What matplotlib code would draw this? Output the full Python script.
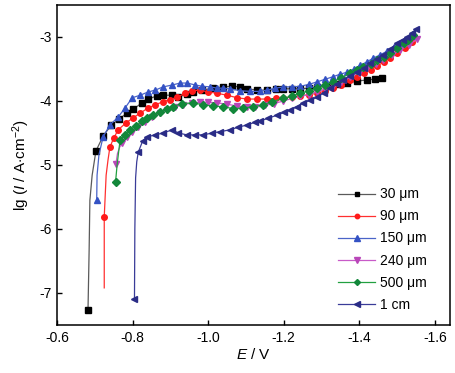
import matplotlib
matplotlib.use("Agg")
import matplotlib.pyplot as plt

plt.rcParams['font.family'] = ['Liberation Sans', 'DejaVu Sans']
plt.rcParams['mathtext.fontset'] = 'custom'
plt.rcParams['mathtext.rm'] = 'Liberation Sans'
plt.rcParams['mathtext.it'] = 'Liberation Sans:italic'
plt.rcParams['axes.unicode_minus'] = False

# ---- data (E in V, lg I in lg(A/cm2)) ----
E_30 = [-0.682, -0.685, -0.687, -0.693, -0.703, -0.722, -0.743, -0.765, -0.785, -0.801,
        -0.825, -0.841, -0.865, -0.881, -0.905, -0.921, -0.944, -0.960, -0.985, -1.013,
        -1.040, -1.064, -1.085, -1.103, -1.130, -1.155, -1.180, -1.199, -1.222, -1.244,
        -1.268, -1.289, -1.311, -1.331, -1.350, -1.368, -1.395, -1.421, -1.442, -1.461]
lg_30 = [-7.27, -6.33, -5.55, -5.16, -4.78, -4.55, -4.38, -4.28, -4.19, -4.13,
         -4.03, -3.97, -3.92, -3.91, -3.91, -3.94, -3.89, -3.86, -3.83, -3.80,
         -3.78, -3.77, -3.78, -3.81, -3.83, -3.83, -3.82, -3.81, -3.81, -3.81,
         -3.80, -3.78, -3.77, -3.75, -3.73, -3.72, -3.69, -3.67, -3.66, -3.64]

E_90 = [-0.725, -0.725, -0.730, -0.735, -0.740, -0.750, -0.762, -0.783, -0.800, -0.820,
        -0.841, -0.860, -0.881, -0.899, -0.918, -0.939, -0.958, -0.979, -1.000, -1.024,
        -1.050, -1.077, -1.103, -1.130, -1.156, -1.180, -1.199, -1.222, -1.244, -1.267,
        -1.289, -1.310, -1.331, -1.352, -1.376, -1.395, -1.412, -1.430, -1.448, -1.465,
        -1.482, -1.501, -1.520, -1.540]
lg_90 = [-6.92, -5.81, -5.16, -4.92, -4.72, -4.58, -4.45, -4.34, -4.27, -4.19,
         -4.11, -4.06, -4.01, -3.98, -3.94, -3.88, -3.84, -3.83, -3.86, -3.88,
         -3.91, -3.95, -3.97, -3.97, -3.97, -3.96, -3.95, -3.94, -3.92, -3.90,
         -3.88, -3.84, -3.80, -3.75, -3.68, -3.63, -3.57, -3.51, -3.45, -3.39,
         -3.33, -3.25, -3.17, -3.08]

E_150 = [-0.705, -0.706, -0.711, -0.722, -0.740, -0.762, -0.780, -0.799, -0.820, -0.841,
         -0.860, -0.881, -0.905, -0.926, -0.944, -0.966, -0.984, -1.005, -1.024, -1.040,
         -1.058, -1.085, -1.111, -1.138, -1.156, -1.178, -1.199, -1.222, -1.244, -1.267,
         -1.289, -1.310, -1.331, -1.350, -1.368, -1.386, -1.403, -1.420, -1.437, -1.455,
         -1.474, -1.492, -1.509, -1.525, -1.540]
lg_150 = [-5.55, -5.16, -4.84, -4.56, -4.375, -4.25, -4.11, -3.95, -3.91, -3.86,
          -3.83, -3.78, -3.75, -3.72, -3.72, -3.75, -3.77, -3.78, -3.80, -3.80,
          -3.81, -3.84, -3.85, -3.85, -3.83, -3.80, -3.78, -3.78, -3.77, -3.74,
          -3.70, -3.66, -3.62, -3.58, -3.55, -3.50, -3.44, -3.39, -3.33, -3.28,
          -3.22, -3.16, -3.11, -3.05, -2.99]

E_240 = [-0.756, -0.760, -0.766, -0.772, -0.785, -0.799, -0.815, -0.833, -0.852, -0.873,
         -0.891, -0.913, -0.934, -0.958, -0.979, -1.000, -1.024, -1.050, -1.077, -1.103,
         -1.125, -1.150, -1.175, -1.199, -1.222, -1.244, -1.267, -1.289, -1.310, -1.331,
         -1.352, -1.376, -1.398, -1.421, -1.443, -1.464, -1.487, -1.509, -1.532, -1.554]
lg_240 = [-4.98, -4.82, -4.72, -4.66, -4.56, -4.48, -4.41, -4.33, -4.25, -4.19,
          -4.14, -4.09, -4.06, -4.03, -4.02, -4.02, -4.03, -4.05, -4.08, -4.10,
          -4.10, -4.07, -4.04, -4.00, -3.96, -3.93, -3.90, -3.86, -3.81, -3.76,
          -3.70, -3.63, -3.56, -3.49, -3.43, -3.36, -3.28, -3.20, -3.12, -3.03]

E_500 = [-0.755, -0.759, -0.763, -0.767, -0.780, -0.793, -0.809, -0.824, -0.838, -0.855,
         -0.873, -0.891, -0.907, -0.930, -0.960, -0.987, -1.013, -1.040, -1.066, -1.093,
         -1.119, -1.146, -1.170, -1.199, -1.222, -1.244, -1.267, -1.289, -1.310, -1.331,
         -1.352, -1.376, -1.395, -1.411, -1.430, -1.448, -1.465, -1.482, -1.500, -1.517,
         -1.530, -1.543]
lg_500 = [-5.26, -5.00, -4.80, -4.61, -4.53, -4.45, -4.39, -4.32, -4.27, -4.22,
          -4.17, -4.12, -4.09, -4.04, -4.03, -4.06, -4.08, -4.09, -4.12, -4.11,
          -4.09, -4.06, -4.01, -3.96, -3.92, -3.88, -3.84, -3.80, -3.75, -3.70,
          -3.64, -3.57, -3.52, -3.47, -3.42, -3.36, -3.31, -3.25, -3.18, -3.10,
          -3.04, -2.97]

E_1cm = [-0.805, -0.806, -0.808, -0.811, -0.815, -0.827, -0.838, -0.860, -0.881, -0.905,
         -0.921, -0.944, -0.966, -0.987, -1.011, -1.032, -1.058, -1.079, -1.103, -1.125,
         -1.138, -1.159, -1.183, -1.200, -1.217, -1.235, -1.252, -1.270, -1.289, -1.306,
         -1.323, -1.340, -1.358, -1.376, -1.395, -1.412, -1.429, -1.446, -1.464, -1.482,
         -1.501, -1.515, -1.527, -1.540, -1.551]
lg_1cm = [-7.09, -6.00, -5.20, -4.95, -4.80, -4.62, -4.56, -4.53, -4.50, -4.45,
          -4.50, -4.53, -4.53, -4.53, -4.50, -4.48, -4.45, -4.41, -4.375, -4.33,
          -4.31, -4.27, -4.22, -4.18, -4.14, -4.09, -4.03, -3.99, -3.94, -3.87,
          -3.80, -3.74, -3.67, -3.61, -3.55, -3.48, -3.41, -3.35, -3.28, -3.19,
          -3.09, -3.04, -3.00, -2.94, -2.875]

labels = ['30 μm', '90 μm', '150 μm', '240 μm', '500 μm', '1 cm']
x_ticks = [-0.6, -0.8, -1.0, -1.2, -1.4, -1.6]
y_ticks = [-7, -6, -5, -4, -3]

# (E, lg, line colour, marker colour, marker, size, marked points)
series = [
    (E_30, lg_30, '#5a5a5a', '#000000', 's', 3.8, [0] + list(range(4, len(E_30)))),
    (E_90, lg_90, '#ff3030', '#ff1a1a', 'o', 4.0, [1] + list(range(4, len(E_90)))),
    (E_150, lg_150, '#4a64c8', '#3452c4', '^', 4.8, [0] + list(range(3, len(E_150)))),
    (E_240, lg_240, '#c85ac8', '#b946b9', 'v', 4.8, [0] + list(range(3, len(E_240)))),
    (E_500, lg_500, '#22a040', '#12873a', 'D', 3.8, [0] + list(range(3, len(E_500)))),
    (E_1cm, lg_1cm, '#3a3c98', '#2a2c86', '<', 4.8, [0] + list(range(4, len(E_1cm)))),
]

fig = plt.figure(figsize=(4.55, 3.73), dpi=100)
ax = fig.add_axes([0.1253, 0.1287, 0.8637, 0.858])

for (E, lg, lc, mc, mk, ms, mev), lab in zip(series, labels):
    ax.plot(E, lg, color=lc, lw=0.9, marker=mk, ms=ms, mfc=mc, mec=mc,
            markevery=mev, label=lab)

ax.set_xlim(-0.6, -1.64)
ax.set_ylim(-7.5, -2.5)
ax.set_xticks(x_ticks)
ax.set_xticklabels(['%.1f' % v for v in x_ticks])
ax.set_yticks(y_ticks)
ax.set_yticklabels(['%d' % v for v in y_ticks])
ax.tick_params(direction='in', length=3.5, width=1.0, labelsize=10,
               top=False, right=False, pad=4)
for sp in ax.spines.values():
    sp.set_linewidth(1.1)

ax.set_xlabel(r'$E$ / V', fontsize=11, labelpad=2)
ax.set_ylabel(r'lg ($I$ / A$\cdot$cm$^{-2}$)', fontsize=11, labelpad=5)

ax.legend(loc='upper left', bbox_to_anchor=(0.715, 0.43), frameon=False,
          fontsize=10, handlelength=2.7, handletextpad=0.35, labelspacing=0.58,
          markerscale=0.8, borderpad=0, borderaxespad=0)

fig.savefig('out.png', dpi=100)
